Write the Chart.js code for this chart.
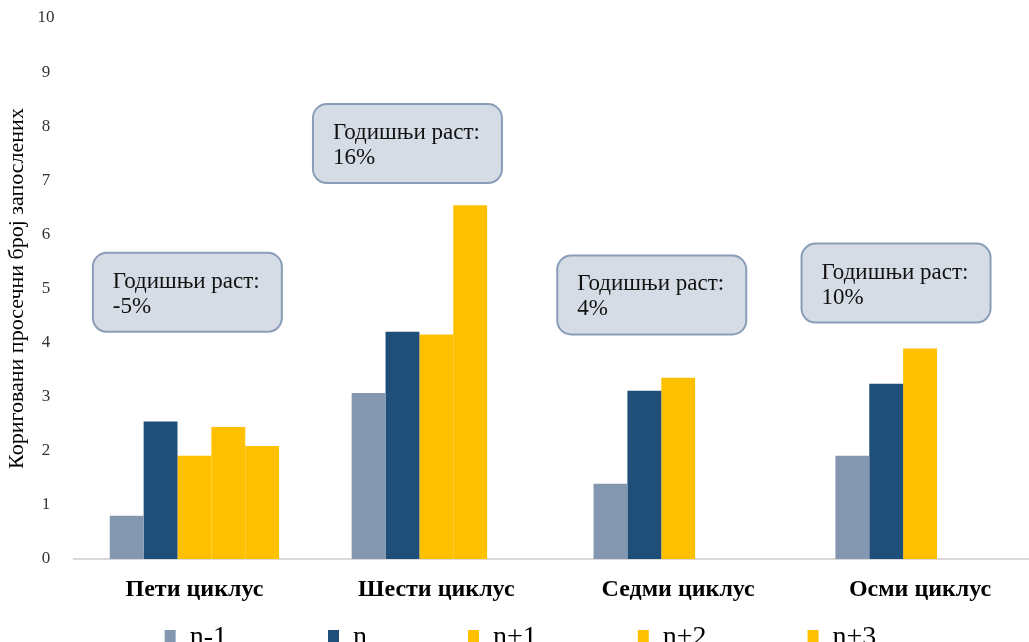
<!DOCTYPE html>
<html>
<head>
<meta charset="utf-8">
<script src="https://cdn.jsdelivr.net/npm/chart.js@4.4.1/dist/chart.umd.min.js"></script>
<style>
    html, body { margin: 0; padding: 0; background: #fff; overflow: hidden; }
    #wrap { position: relative; width: 1041px; height: 662px; }
</style>
</head>
<body>
<div id="wrap"><canvas id="myChart"></canvas></div>
<script>
// values
const cycles = ['Пети циклус', 'Шести циклус', 'Седми циклус', 'Осми циклус']
const seriesNames = ['n-1', 'n', 'n+1', 'n+2', 'n+3']
const nMinus1 = [0.80, 3.07, 1.39, 1.91]
const nCurrent = [2.54, 4.20, 3.11, 3.24]
const nPlus1 = [1.91, 4.15, 3.35, 3.89]
const nPlus2 = [2.44, 6.54, null, null]
const nPlus3 = [2.09, null, null, null]
const yTicks = [0, 1, 2, 3, 4, 5, 6, 7, 8, 9, 10]

const growthTitle = 'Годишњи раст:'
const growthValues = ['-5%', '16%', '4%', '10%']
// where each callout box starts: category position and y value of its top edge
const calloutAt = [-0.42, 0.49, 1.50, 2.51]
const calloutTop = [5.66, 8.41, 5.61, 5.83]

const seriesColors = ['#8497B0', '#1F4E79', '#FFC000', '#FFC000', '#FFC000']
const serif = '"Liberation Serif", "Times New Roman", serif'

const allSeries = [nMinus1, nCurrent, nPlus1, nPlus2, nPlus3]

const data = {
    labels: cycles,
    datasets: allSeries.map((values, i) => ({
        label: seriesNames[i],
        data: values,
        backgroundColor: seriesColors[i],
        borderWidth: 0,
        categoryPercentage: 0.7,
        barPercentage: 1.0
    }))
}

// rounded boxes with the yearly growth
const callouts = {
    id: 'callouts',
    afterDatasetsDraw(chart) {
        const { ctx, scales: { x, y } } = chart
        ctx.save()
        growthValues.forEach((txt, i) => {
            const left = x.getPixelForValue(calloutAt[i])
            const top = y.getPixelForValue(calloutTop[i])
            ctx.beginPath()
            ctx.roundRect(left, top, 189, 79, 14)
            ctx.fillStyle = '#D6DCE5'
            ctx.fill()
            ctx.lineWidth = 2
            ctx.strokeStyle = '#8A9DB8'
            ctx.stroke()
            ctx.fillStyle = '#111'
            ctx.font = '23px ' + serif
            ctx.textBaseline = 'alphabetic'
            ctx.fillText(growthTitle, left + 20, top + 35)
            ctx.fillText(txt, left + 20, top + 60)
        })
        ctx.restore()
    }
}

const ctx = document.getElementById('myChart').getContext('2d')

const chart = new Chart(ctx, {
    type: 'bar',
    data: data,
    plugins: [callouts],
    options: {
        responsive: true,
        maintainAspectRatio: false,
        animation: false,
        layout: { padding: { top: 18, right: 0, left: 0, bottom: 0 } },
        plugins: {
            tooltip: { enabled: false },
            legend: {
                position: 'bottom',
                labels: {
                    boxWidth: 11,
                    boxHeight: 16,
                    padding: 10,
                    color: '#000',
                    font: { family: serif, size: 28 },
                    generateLabels(chart) {
                        const items = Chart.defaults.plugins.legend.labels.generateLabels(chart)
                        // wide gaps between entries, like the original
                        items.forEach((item, i) => {
                            if (i < items.length - 1) item.text = item.text + '\u2003\u2003\u2003 '
                        })
                        return items
                    }
                }
            }
        },
        scales: {
            x: {
                grid: { display: false, drawTicks: false },
                border: { display: true, color: '#D9D9D9', width: 2 },
                ticks: {
                    padding: 16,
                    color: '#000',
                    font: { family: serif, size: 24, weight: 'bold' }
                },
                afterFit(axis) { axis.height = 55 }
            },
            y: {
                min: 0,
                max: 10,
                afterBuildTicks(axis) { axis.ticks = yTicks.map(v => ({ value: v })) },
                grid: { display: false, drawTicks: false },
                border: { display: false },
                ticks: {
                    padding: 19,
                    crossAlign: 'center',
                    color: '#333',
                    font: { family: serif, size: 17 }
                },
                title: {
                    display: true,
                    text: 'Кориговани просечни број запослених',
                    color: '#000',
                    font: { family: serif, size: 22 },
                    padding: { top: 4, bottom: 0 }
                },
                afterFit(axis) {
                    axis.width = 73.5
                    axis.paddingTop = 0
                    axis.paddingBottom = 0
                }
            }
        }
    }
})
</script>
</body>
</html>
